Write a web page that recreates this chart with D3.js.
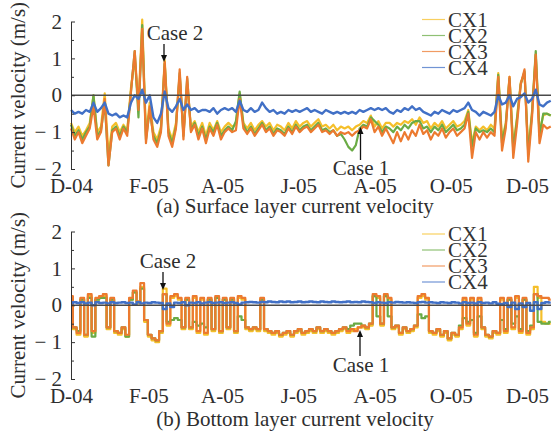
<!DOCTYPE html>
<html>
<head>
<meta charset="utf-8">
<script src="https://cdn.jsdelivr.net/npm/d3@7"></script>
<style>
    body { margin: 0; background: #fff; }
    svg { display: block; font-family: "Liberation Serif", "Times New Roman", serif; }
</style>
</head>
<body>
<svg id="chart" width="554" height="433"></svg>
<script>
// one value every 3 days from 1 Dec 2004
const startDate = new Date(2004, 11, 1);
const stepDays = 3;

const seriesNames = ["CX1", "CX2", "CX3", "CX4"];
const seriesColors = ["#f5bf2a", "#6aab45", "#ec7a2f", "#4170c6"];
const tickDates = ["2004-12-01", "2005-02-01", "2005-04-01", "2005-06-01", "2005-08-01", "2005-10-01", "2005-12-01"];
const yMajor = [-2, -1, 0, 1, 2];
const yMinor = [-1.5, -0.5, 0.5, 1.5];

// (a) surface layer
const surfCX1 = [
    -0.75, -1.0, -0.85, -1.1, -0.95, -0.75, 0.0, -1.0, -0.85, 0.05,
    -1.6, -0.85, -0.75, -1.0, -0.8, -0.95, 0.2, 1.0, -0.3, 2.05,
    -1.1, -0.2, -1.0, -1.2, -0.85, 0.95, -0.9, -1.2, -0.75, 0.5,
    -1.0, 0.3, -0.85, -0.7, -1.0, -0.75, -1.1, -0.75, -0.95, -0.7,
    -1.0, -0.85, -0.75, -0.85, -0.8, 0.05, -0.75, -0.9, -0.75, -0.95,
    -0.8, -0.7, -0.85, -0.75, -0.95, -0.8, -0.85, -0.95, -0.75, -0.9,
    -0.7, -0.85, -0.75, -0.7, -0.85, -0.75, -0.65, -0.85, -0.8, -0.9,
    -0.8, -0.95, -0.85, -0.9, -0.85, -0.95, -0.85, -0.8, -0.7, -0.75,
    -0.55, -0.85, -0.7, -0.9, -0.75, -0.75, -0.85, -0.75, -0.8, -0.7,
    -0.75, -0.65, -0.8, -0.6, -0.75, -0.7, -0.9, -0.75, -0.85, -0.7,
    -0.9, -0.8, -0.7, -0.85, -0.8, -0.7, -0.4, -1.3, -0.85, -0.95,
    -0.85, -0.95, -0.8, -0.9, 0.6, -1.2, -0.75, 0.5, -1.4, -0.6,
    0.35, 0.6, -1.5, -0.45, 1.1, -1.0, -0.55, -0.5, -0.55
];
const surfCX2 = [
    -0.8, -1.1, -0.95, -1.2, -1.0, -0.85, 0.0, -1.1, -0.95, -0.2,
    -1.9, -0.95, -0.85, -1.1, -0.85, -1.0, 0.1, 1.2, -0.6, 1.9,
    -1.2, -0.4, -1.1, -1.3, -0.95, 0.85, -1.0, -1.3, -0.85, 0.6,
    -1.1, 0.45, -0.95, -0.75, -1.1, -0.85, -1.2, -0.85, -1.0, -0.75,
    -1.1, -0.95, -0.85, -0.95, -0.7, 0.1, -0.8, -1.0, -0.85, -1.05,
    -0.9, -0.75, -0.95, -0.85, -1.05, -0.9, -0.95, -1.05, -0.85, -1.0,
    -0.8, -0.95, -0.85, -0.8, -0.95, -0.85, -0.75, -0.95, -0.9, -1.0,
    -0.95, -1.1, -1.05, -1.2, -1.4, -1.5, -1.35, -0.9, -0.8, -0.85,
    -0.6, -0.7, -0.8, -1.0, -0.85, -0.9, -1.0, -0.85, -0.95, -0.8,
    -0.9, -0.75, -0.7, -0.7, -0.9, -0.85, -1.0, -0.85, -0.95, -0.8,
    -1.0, -0.9, -0.8, -0.95, -0.9, -0.8, -0.45, -1.4, -0.9, -1.0,
    -0.95, -1.0, -0.9, -1.0, 0.55, -1.3, -0.8, 0.45, -1.5, -0.65,
    0.3, 0.65, -1.6, -0.5, 1.2, -1.1, -0.5, -0.5, -0.55
];
const surfCX3 = [
    -0.9, -1.2, -1.0, -1.3, -1.1, -0.9, -0.3, -1.2, -1.0, -0.1,
    -1.9, -1.0, -0.9, -1.2, -0.9, -1.1, 0.1, 1.2, -0.4, 1.8,
    -1.3, -0.3, -1.2, -1.4, -1.0, 0.9, -1.1, -1.4, -0.9, 0.7,
    -1.2, 0.5, -1.0, -0.8, -1.2, -0.9, -1.3, -0.9, -1.1, -0.8,
    -1.2, -1.0, -0.9, -1.0, -0.95, -0.1, -0.9, -1.05, -0.9, -1.1,
    -0.95, -0.8, -1.0, -0.9, -1.1, -0.95, -1.0, -1.1, -0.9, -1.05,
    -0.85, -1.0, -0.9, -0.85, -1.0, -0.9, -0.8, -1.0, -0.95, -1.05,
    -0.95, -1.1, -1.0, -1.05, -1.0, -1.1, -1.0, -0.95, -0.85, -0.9,
    -0.65, -1.0, -0.85, -1.1, -0.9, -1.1, -1.3, -1.0, -1.25, -1.0,
    -1.2, -0.95, -1.1, -0.8, -1.05, -0.95, -1.2, -1.0, -1.1, -0.9,
    -1.15, -1.0, -0.9, -1.1, -1.0, -0.9, -0.5, -1.7, -1.0, -1.2,
    -1.0, -1.15, -1.0, -1.1, 0.5, -1.5, -0.9, 0.5, -1.7, -0.8,
    0.3, 0.7, -1.8, -0.6, 1.1, -1.3, -0.8, -0.9, -0.85
];
const surfCX4 = [
    -0.4, -0.5, -0.45, -0.5, -0.4, -0.45, -0.2, -0.45, -0.35, -0.2,
    -0.5, -0.55, -0.5, -0.6, -0.55, -0.6, -0.2, 0.0, -0.1, 0.15,
    -0.2, 0.0, -0.6, -0.75, -0.5, 0.1, -0.35, -0.45, -0.3, -0.1,
    -0.4, -0.25, -0.4, -0.35, -0.45, -0.4, -0.4, -0.45, -0.35, -0.5,
    -0.4, -0.35, -0.4, -0.35, -0.45, -0.15, -0.4, -0.45, -0.35, -0.45,
    -0.4, -0.2, -0.35, -0.45, -0.4, -0.5, -0.45, -0.5, -0.4, -0.45,
    -0.4, -0.45, -0.4, -0.35, -0.45, -0.4, -0.45, -0.5, -0.4, -0.45,
    -0.5, -0.45, -0.5, -0.45, -0.5, -0.45, -0.5, -0.4, -0.45, -0.4,
    -0.35, -0.4, -0.35, -0.4, -0.35, -0.45, -0.5, -0.4, -0.45, -0.35,
    -0.4, -0.3, -0.4, -0.35, -0.45, -0.5, -0.55, -0.45, -0.5, -0.4,
    -0.45, -0.5, -0.4, -0.45, -0.4, -0.35, -0.2, -0.4, -0.45, -0.55,
    -0.45, -0.5, -0.55, -0.45, 0.0, -0.25, -0.2, 0.0, -0.3, -0.1,
    -0.05, 0.05, -0.2, -0.1, 0.15, -0.25, -0.3, -0.2, -0.15
];

// (b) bottom layer
const botCX1 = [
    0.2, -0.65, -0.8, 0.15, -0.85, 0.25, -0.75, 0.15, 0.2, 0.25,
    -0.65, 0.15, -0.75, -0.8, -0.65, -0.85, 0.15, 0.35, 0.05, 0.5,
    -0.45, -0.85, -0.95, -1.0, -0.75, 0.45, -0.55, 0.2, 0.25, 0.15,
    -0.65, 0.15, -0.65, 0.2, -0.75, 0.15, -0.8, 0.15, -0.7, 0.2,
    -0.75, 0.15, -0.65, 0.15, -0.75, 0.2, 0.15, -0.65, -0.7, -0.65,
    -0.7, 0.15, -0.7, -0.75, -0.8, -0.75, -0.85, -0.8, -0.75, -0.85,
    -0.75, -0.7, -0.8, -0.75, -0.7, -0.75, -0.65, -0.75, -0.7, -0.75,
    -0.8, -0.75, -0.7, -0.65, -0.75, -0.7, -0.65, -0.6, -0.6, -0.65,
    -0.55, 0.25, 0.2, -0.55, 0.25, 0.15, -0.65, -0.6, -0.8, -0.65,
    -0.75, -0.7, -0.6, 0.2, 0.25, 0.15, -0.75, -0.8, -0.7, -0.85,
    -0.75, -0.95, -0.8, -0.85, -0.65, 0.15, -0.55, 0.15, -0.85, 0.15,
    -0.65, -0.85, -0.9, -0.75, -0.8, 0.15, -0.75, 0.15, -0.65, 0.2,
    -0.75, 0.15, -0.8, -0.65, 0.5, 0.2, -0.45, -0.5, -0.5
];
const botCX2 = [
    0.2, -0.6, -0.7, 0.15, -0.8, 0.2, -0.85, 0.15, 0.2, 0.2,
    -0.6, 0.15, -0.7, -0.75, -0.6, -0.85, 0.15, 0.35, 0.1, 0.45,
    -0.4, -0.8, -0.9, -0.95, -0.7, 0.3, -0.45, -0.4, -0.35, -0.4,
    -0.6, 0.15, -0.6, -0.45, -0.55, -0.5, -0.6, 0.15, -0.65, 0.2,
    -0.7, 0.15, -0.6, 0.15, -0.7, -0.3, -0.4, -0.6, -0.65, -0.6,
    -0.65, 0.15, -0.65, -0.7, -0.75, -0.7, -0.8, -0.75, -0.7, -0.8,
    -0.7, -0.65, -0.75, -0.7, -0.65, -0.7, -0.6, -0.7, -0.65, -0.7,
    -0.75, -0.7, -0.65, -0.6, -0.65, -0.55, -0.5, -0.5, -0.55, -0.6,
    -0.5, 0.25, -0.3, -0.5, 0.25, -0.3, -0.6, -0.55, -0.75, -0.6,
    -0.7, -0.65, -0.55, -0.25, -0.35, -0.3, -0.7, -0.75, -0.65, -0.8,
    -0.7, -0.9, -0.75, -0.8, -0.55, -0.35, -0.45, -0.4, -0.75, -0.3,
    -0.6, -0.8, -0.85, -0.7, -0.75, -0.4, -0.65, 0.15, -0.5, -0.3,
    -0.65, 0.15, -0.7, -0.55, 0.3, -0.45, -0.5, -0.5, -0.45
];
const botCX3 = [
    0.25, -0.6, -0.75, 0.2, -0.8, 0.3, -0.7, 0.2, 0.25, 0.3,
    -0.6, 0.2, -0.7, -0.75, -0.6, -0.8, 0.2, 0.4, 0.1, 0.6,
    -0.4, -0.8, -0.9, -0.95, -0.7, 0.3, -0.5, 0.25, 0.3, 0.2,
    -0.6, 0.2, -0.6, 0.25, -0.7, 0.2, -0.75, 0.2, -0.65, 0.25,
    -0.7, 0.2, -0.6, 0.2, -0.7, 0.25, 0.2, -0.6, -0.65, -0.6,
    -0.65, 0.2, -0.65, -0.7, -0.75, -0.7, -0.8, -0.75, -0.7, -0.8,
    -0.7, -0.65, -0.75, -0.7, -0.65, -0.7, -0.6, -0.7, -0.65, -0.7,
    -0.75, -0.7, -0.65, -0.6, -0.7, -0.65, -0.7, -0.6, -0.55, -0.6,
    -0.5, 0.3, 0.25, -0.5, 0.3, 0.2, -0.6, -0.55, -0.75, -0.6,
    -0.7, -0.65, -0.55, 0.25, 0.3, 0.2, -0.7, -0.75, -0.65, -0.8,
    -0.7, -0.9, -0.75, -0.8, -0.6, 0.2, -0.5, 0.2, -0.8, 0.2,
    -0.6, -0.8, -0.85, -0.7, -0.75, 0.2, -0.7, 0.2, -0.6, 0.25,
    -0.7, 0.2, -0.75, -0.6, 0.3, 0.25, 0.2, 0.2, 0.15
];
const botCX4 = [
    0.05, 0.08, 0.06, 0.08, 0.05, 0.07, 0.0, 0.08, 0.06, 0.07,
    0.05, 0.08, 0.06, 0.07, 0.08, 0.06, 0.07, 0.02, 0.08, 0.05,
    0.07, 0.06, 0.08, 0.07, 0.06, -0.1, 0.05, -0.05, 0.07, 0.06,
    0.08, 0.0, 0.07, 0.06, 0.08, 0.05, 0.07, 0.08, 0.06, 0.07,
    0.08, 0.06, 0.07, 0.08, 0.06, 0.02, 0.07, 0.08, 0.09, 0.08,
    0.07, 0.09, 0.08, 0.1, 0.09, 0.08, 0.1, 0.09, 0.1, 0.08,
    0.09, 0.1, 0.08, 0.09, 0.1, 0.09, 0.08, 0.1, 0.09, 0.08,
    0.1, 0.09, 0.08, 0.09, 0.1, 0.08, 0.09, 0.08, 0.1, 0.09,
    0.08, 0.06, 0.08, 0.07, 0.06, 0.08, 0.07, 0.09, 0.08, 0.07,
    0.08, 0.07, 0.06, 0.08, 0.09, 0.07, 0.08, 0.07, 0.06, 0.08,
    0.07, 0.06, 0.08, 0.07, 0.05, 0.08, 0.06, 0.07, 0.05, 0.08,
    0.06, 0.07, 0.05, 0.08, 0.04, 0.03, 0.06, -0.05, 0.07, -0.1,
    0.05, -0.05, 0.06, -0.15, 0.08, -0.1, 0.06, 0.08, 0.07
];

const panels = [
    {
        series: [surfCX1, surfCX2, surfCX3, surfCX4],
        curve: d3.curveLinear,
        caption: "(a) Surface layer current velocity",
        yTop: 21.5, yBottom: 169, tickBase: 193, captionBase: 213, legendY: 19.5,
        cases: [
            { text: "Case 2", tx: 175, ty: 40, ax: 164, from: 44, to: 62 },
            { text: "Case 1", tx: 361, ty: 175, ax: 360.5, from: 160, to: 127 }
        ]
    },
    {
        series: [botCX1, botCX2, botCX3, botCX4],
        curve: d3.curveStep,
        caption: "(b) Bottom layer current velocity",
        yTop: 231.5, yBottom: 379, tickBase: 403, captionBase: 426, legendY: 234,
        cases: [
            { text: "Case 2", tx: 168, ty: 268, ax: 163, from: 272, to: 290 },
            { text: "Case 1", tx: 361, ty: 372, ax: 360, from: 356, to: 330 }
        ]
    }
];

const svg = d3.select("#chart");
svg.append("rect").attr("width", 554).attr("height", 433).attr("fill", "#fff");

const x = d3.scaleTime()
    .domain([new Date(2004, 11, 1), new Date(2005, 11, 1)])
    .range([71, 527]);
const dateAt = i => d3.timeDay.offset(startDate, i * stepDays);
const monthFmt = d3.timeFormat("%b");
const yearFmt = d3.timeFormat("%y");
const textColor = "#2e2e2e";
const fontSize = 21;

panels.forEach(p => {
    const y = d3.scaleLinear().domain([-2, 2]).range([p.yBottom, p.yTop]);
    const g = svg.append("g");

    const line = d3.line()
        .curve(p.curve)
        .x((d, i) => x(dateAt(i)))
        .y(d => y(d));

    p.series.forEach((s, k) => {
        g.append("path")
            .datum(s)
            .attr("fill", "none")
            .attr("stroke", seriesColors[k])
            .attr("stroke-width", k === 3 ? 2.4 : 2.2)
            .attr("stroke-linejoin", "round")
            .attr("d", line);
    });

    // zero line
    g.append("line")
        .attr("x1", 71).attr("x2", 551)
        .attr("y1", y(0)).attr("y2", y(0))
        .attr("stroke", "#4a4a4a").attr("stroke-width", 1.3);

    // y axis with inward ticks
    const yAxis = g.append("g")
        .attr("transform", "translate(71,0)")
        .call(d3.axisLeft(y)
            .tickValues(yMajor)
            .tickSizeInner(-4)
            .tickSizeOuter(0)
            .tickPadding(9)
            .tickFormat(d => d < 0 ? "\u2212 " + Math.abs(d) : d));
    yAxis.select(".domain").attr("stroke", "#333");
    yAxis.selectAll(".tick line").attr("stroke", "#333");
    yAxis.selectAll("text")
        .attr("font-size", fontSize)
        .attr("font-family", "Liberation Serif")
        .attr("fill", textColor);

    const yMinorAxis = g.append("g")
        .attr("transform", "translate(71,0)")
        .call(d3.axisLeft(y).tickValues(yMinor).tickSize(-3).tickFormat(""));
    yMinorAxis.select(".domain").remove();
    yMinorAxis.selectAll(".tick line").attr("stroke", "#333");

    // x tick labels only
    const xAxis = g.append("g")
        .attr("transform", `translate(0,${p.tickBase})`)
        .call(d3.axisBottom(x)
            .tickValues(tickDates.map(d3.timeParse("%Y-%m-%d")))
            .tickSize(0)
            .tickFormat(d => monthFmt(d)[0] + "-" + yearFmt(d)));
    xAxis.select(".domain").remove();
    xAxis.selectAll("text")
        .attr("y", 0).attr("dy", null)
        .attr("font-size", fontSize)
        .attr("font-family", "Liberation Serif")
        .attr("fill", textColor);

    g.append("text")
        .attr("x", 295).attr("y", p.captionBase)
        .attr("text-anchor", "middle")
        .attr("font-size", fontSize)
        .attr("fill", textColor)
        .text(p.caption);

    g.append("text")
        .attr("transform", `translate(25,${(p.yTop + p.yBottom) / 2}) rotate(-90)`)
        .attr("text-anchor", "middle")
        .attr("font-size", fontSize)
        .attr("fill", textColor)
        .text("Current velocity (m/s)");

    // legend
    seriesNames.forEach((name, k) => {
        const ly = p.legendY + k * 16;
        g.append("line")
            .attr("x1", 422).attr("x2", 445)
            .attr("y1", ly).attr("y2", ly)
            .attr("stroke", seriesColors[k])
            .attr("stroke-opacity", 0.75)
            .attr("stroke-width", 1.2);
        g.append("text")
            .attr("x", 448).attr("y", ly + 7)
            .attr("font-size", fontSize)
            .attr("fill", "#333")
            .text(name);
    });

    // case annotations
    p.cases.forEach(c => {
        g.append("text")
            .attr("x", c.tx).attr("y", c.ty)
            .attr("text-anchor", "middle")
            .attr("font-size", fontSize)
            .attr("fill", textColor)
            .text(c.text);
        const dir = c.to > c.from ? 1 : -1;
        g.append("line")
            .attr("x1", c.ax).attr("x2", c.ax)
            .attr("y1", c.from).attr("y2", c.to - dir * 5)
            .attr("stroke", "#111").attr("stroke-width", 1.3);
        g.append("path")
            .attr("d", `M${c.ax - 3},${c.to - dir * 7}L${c.ax + 3},${c.to - dir * 7}L${c.ax},${c.to}Z`)
            .attr("fill", "#111");
    });
});
</script>
</body>
</html>
